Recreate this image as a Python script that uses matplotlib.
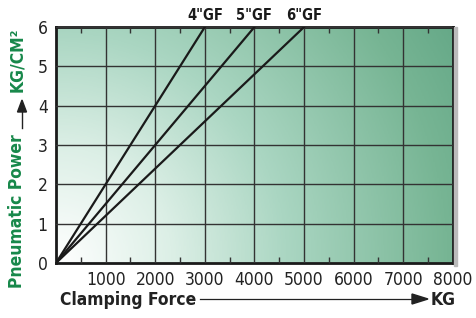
import numpy as np
import matplotlib.pyplot as plt
from matplotlib.colors import LinearSegmentedColormap

# data
sizes = ['4"GF', '5"GF', '6"GF']
force_at_6 = [3000, 4000, 5000]   # KG at 6 KG/CM2
pressure = [0, 6]
x_ticks = [1000, 2000, 3000, 4000, 5000, 6000, 7000, 8000]
y_ticks = [0, 1, 2, 3, 4, 5, 6]

green = "#17884a"
cond = dict(family="DejaVu Sans", stretch="condensed")

fig = plt.figure(figsize=(4.77, 3.18), dpi=100)
ax = fig.add_axes([0.1174, 0.173, 0.832, 0.742])

# background gradient: radial from the bottom-left corner, white -> green
cmap = LinearSegmentedColormap.from_list(
    "g", [(0, "#ffffff"), (0.25, "#dcefe6"), (0.5, "#aad6c2"),
          (0.85, "#77b594"), (1, "#66a988")])
gx, gy = np.meshgrid(np.linspace(0, 1, 300), np.linspace(0, 1, 300))
grad = np.clip(np.hypot(gx * 397, gy * 236) / 462, 0, 1)
ax.imshow(grad, extent=[0, 8000, 0, 6], origin="lower", aspect="auto",
          cmap=cmap, vmin=0, vmax=1, zorder=0)

for name, f in zip(sizes, force_at_6):
    ax.plot([0, f], pressure, color="#1a1a1a", lw=1.6, zorder=3)
    ax.text(f, 6.1, name, ha="center", va="bottom", fontsize=10.5,
            fontweight="bold", color="#1a1a1a", **cond)

ax.set_xlim(0, 8000)
ax.set_ylim(0, 6)
ax.set_xticks(x_ticks)
ax.set_yticks(y_ticks)
ax.set_xticks(np.arange(500, 8000, 1000), minor=True)
ax.grid(True, which="major", color="#333333", lw=1.0, zorder=1)
ax.set_axisbelow(False)
ax.tick_params(axis="both", which="major", length=0, pad=6, labelsize=12.5)
ax.tick_params(axis="x", which="minor", direction="in", length=4, top=True,
               color="#333333", width=1)
for lab in ax.get_xticklabels() + ax.get_yticklabels():
    lab.set_family("DejaVu Sans")
    lab.set_stretch("condensed")
    lab.set_color("#222222")
for s in ax.spines.values():
    s.set_linewidth(2)
    s.set_color("#1a1a1a")

# shadow at right edge
fig.patches.append(plt.Rectangle((0.9514, 0.165), 0.006, 0.75,
                                 transform=fig.transFigure, color="#bbbbbb", zorder=0))

# x label with arrow
fig.text(60 / 477, 1 - 300 / 318, "Clamping Force", ha="left", va="center",
         fontsize=12.5, fontweight="bold", color="#222222", **cond)
fig.text(456 / 477, 1 - 300 / 318, "KG", ha="right", va="center",
         fontsize=12.5, fontweight="bold", color="#222222", **cond)
fig.add_artist(plt.Line2D([200 / 477, 415 / 477], [1 - 299 / 318] * 2,
                          transform=fig.transFigure, color="#222222", lw=0.9))
fig.add_artist(plt.Polygon([[412 / 477, 1 - 294 / 318], [412 / 477, 1 - 304 / 318],
                            [428 / 477, 1 - 299 / 318]],
                           transform=fig.transFigure, color="#222222"))

# y label with arrow
fig.text(17 / 477, 1 - 211 / 318, "Pneumatic Power", rotation=90, ha="center",
         va="center", fontsize=12.5, fontweight="bold", color=green, **cond)
fig.text(17 / 477, 1 - 60 / 318, "KG/CM²", rotation=90, ha="center",
         va="center", fontsize=12.5, fontweight="bold", color=green, **cond)
fig.add_artist(plt.Line2D([22 / 477] * 2, [1 - 128 / 318, 1 - 112 / 318],
                          transform=fig.transFigure, color="#222222", lw=1))
fig.add_artist(plt.Polygon([[17.5 / 477, 1 - 112 / 318], [26.5 / 477, 1 - 112 / 318],
                            [22 / 477, 1 - 100 / 318]],
                           transform=fig.transFigure, color="#222222"))

fig.savefig("out.png", dpi=100)
